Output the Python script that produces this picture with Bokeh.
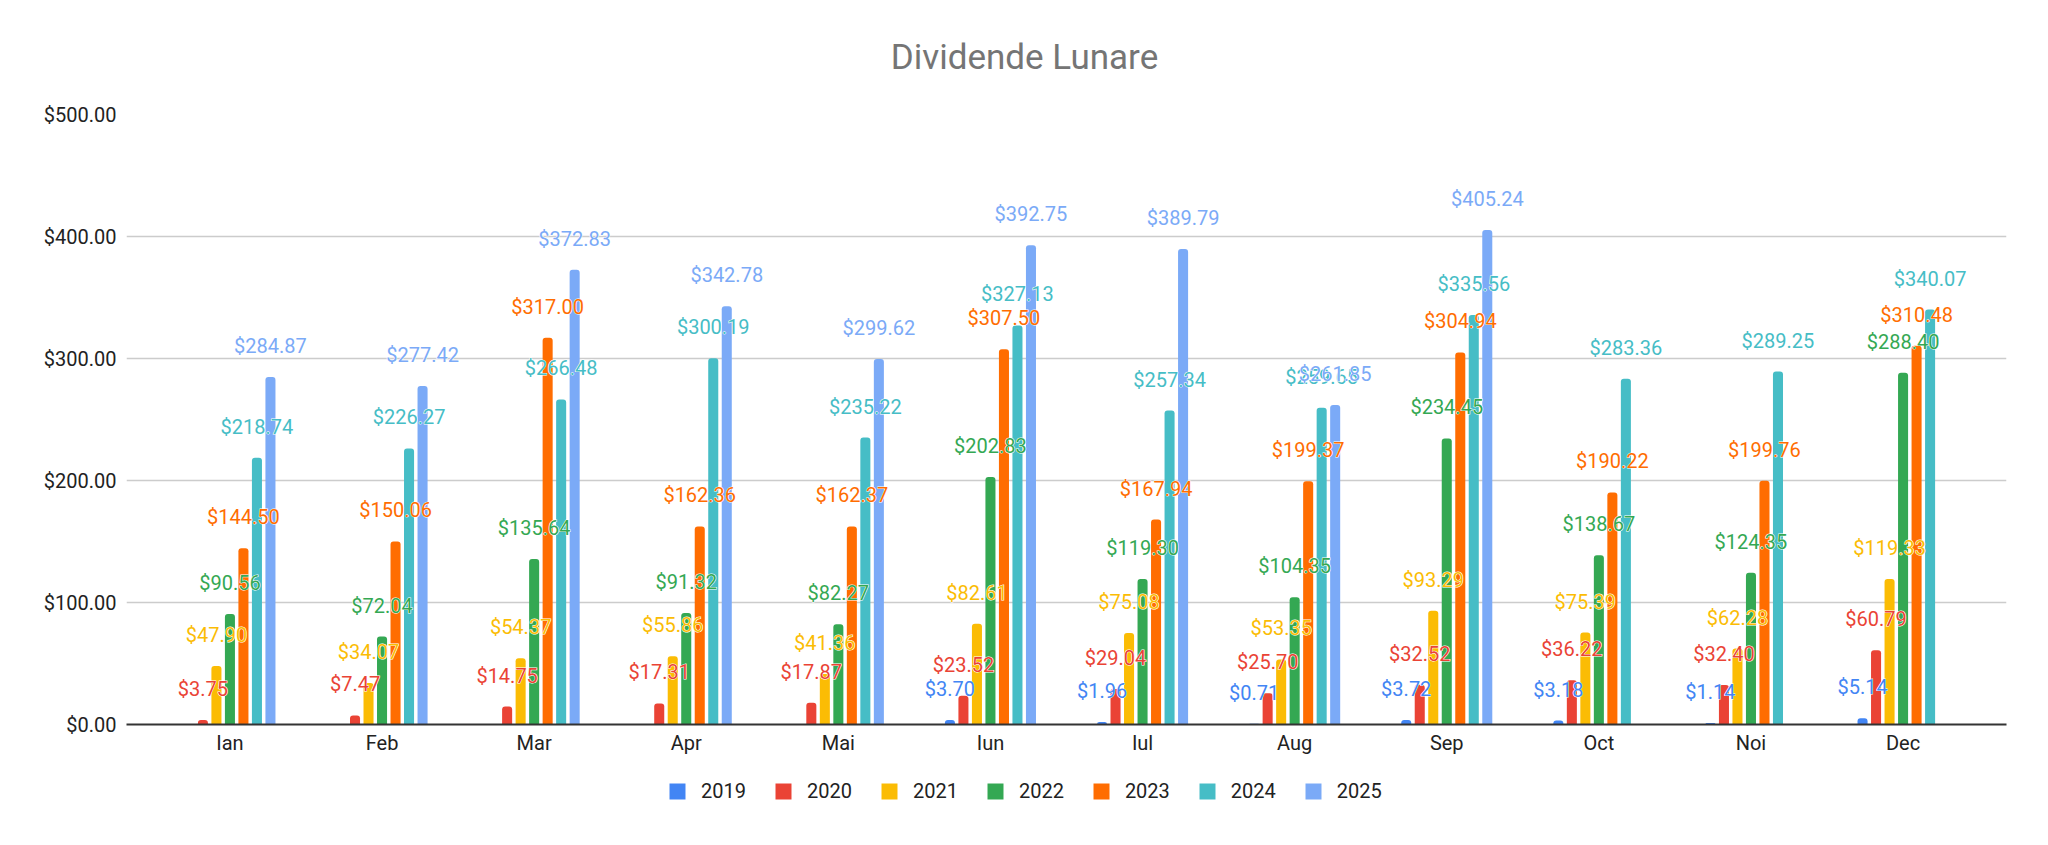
import numpy as np

from bokeh.core.properties import value
from bokeh.embed import file_html
from bokeh.layouts import column
from bokeh.models import (ColumnDataSource, FixedTicker, Label, Legend, LegendItem,
                          NumeralTickFormatter, Range1d)
from bokeh.plotting import figure
from bokeh.resources import INLINE
from bokeh.transform import dodge

nan = float("nan")

# monthly dividends, one list per year (nan = no payment recorded)
months = ["Ian", "Feb", "Mar", "Apr", "Mai", "Iun", "Iul", "Aug", "Sep", "Oct", "Noi", "Dec"]
years = ["2019", "2020", "2021", "2022", "2023", "2024", "2025"]
colors = ["#4285f4", "#ea4335", "#fbbc04", "#34a853", "#ff6d01", "#46bdc6", "#7baaf7"]

div_2019 = [nan, nan, nan, nan, nan, 3.70, 1.96, 0.71, 3.72, 3.18, 1.14, 5.14]
div_2020 = [3.75, 7.47, 14.75, 17.31, 17.87, 23.52, 29.04, 25.70, 32.52, 36.22, 32.40, 60.79]
div_2021 = [47.90, 34.07, 54.37, 55.86, 41.36, 82.61, 75.08, 53.35, 93.29, 75.39, 62.28, 119.33]
div_2022 = [90.56, 72.04, 135.64, 91.32, 82.27, 202.83, 119.30, 104.35, 234.45, 138.67, 124.35, 288.40]
div_2023 = [144.50, 150.06, 317.00, 162.36, 162.37, 307.50, 167.94, 199.37, 304.94, 190.22, 199.76, 310.48]
div_2024 = [218.74, 226.27, 266.48, 300.19, 235.22, 327.13, 257.34, 259.65, 335.56, 283.36, 289.25, 340.07]
div_2025 = [284.87, 277.42, 372.83, 342.78, 299.62, 392.75, 389.79, 261.85, 405.24, nan, nan, nan]

series = [div_2019, div_2020, div_2021, div_2022, div_2023, div_2024, div_2025]

FONT = "Roboto"


def money(v):
    return "" if np.isnan(v) else f"${v:,.2f}"


data = {"idx": np.arange(len(months))}
for yr, vals in zip(years, series):
    data["y" + yr] = np.array(vals, dtype=float)
    data["t" + yr] = [money(v) for v in vals]
src = ColumnDataSource(data)


def strip(height, **kw):
    # bare figure used for the title and legend rows
    f = figure(width=2048, height=height, x_axis_type=None, y_axis_type=None,
               output_backend="svg", toolbar_location=None, tools="", min_border=0, **kw)
    f.grid.visible = False
    f.outline_line_color = None
    return f


# title row (its frame lines up with the chart frame, so x is from x=126)
head = strip(94, x_range=(0, 1), y_range=(0, 1))
head.add_layout(Label(x=898, y=37, x_units="screen", y_units="screen",
                      text="Dividende Lunare", text_align="center", text_baseline="middle",
                      text_font=FONT, text_font_size="35px", text_color="#757575"))

p = figure(width=2048, height=682,
           x_range=Range1d(-0.68, 11.68), y_range=Range1d(0, 500),
           output_backend="svg", toolbar_location=None, tools="",
           min_border_left=126, min_border_right=42,
           min_border_top=20, min_border_bottom=52)
p.outline_line_color = None

bar_w = 0.066
step = 0.0888
bar_style = dict(line_color=None, border_radius=(3, 3, 0, 0))

for j, (yr, col) in enumerate(zip(years, colors)):
    p.vbar(x=dodge("idx", (j - 3) * step, range=p.x_range), top="y" + yr,
           width=bar_w, source=src, fill_color=col, **bar_style)

# data labels above the bars; a white copy underneath gives the halo
for j, (yr, col) in enumerate(zip(years, colors)):
    xs = dodge("idx", (j - 3) * step, range=p.x_range)
    common = dict(x=xs, y="y" + yr, text="t" + yr, source=src, y_offset=-31,
                  text_align="center", text_baseline="middle",
                  text_font=value(FONT), text_font_size="20px")
    p.text(text_color="white", text_outline_color="white", **common)
    p.text(text_color=col, **common)

# axes
p.yaxis.ticker = FixedTicker(ticks=[0, 100, 200, 300, 400, 500])
p.yaxis.formatter = NumeralTickFormatter(format="$0,0.00")
p.yaxis.axis_line_color = None
p.yaxis.major_label_standoff = 10

p.xaxis.ticker = FixedTicker(ticks=list(range(len(months))))
p.xaxis.major_label_overrides = {i: m for i, m in enumerate(months)}
p.xaxis.axis_line_color = "#333333"
p.xaxis.axis_line_width = 2
p.xaxis.major_label_standoff = 6

for ax in (p.xaxis, p.yaxis):
    ax.major_tick_line_color = None
    ax.minor_tick_line_color = None
    ax.major_tick_out = 0
    ax.major_tick_in = 0
    ax.major_label_text_font = FONT
    ax.major_label_text_font_size = "20px"
    ax.major_label_text_color = "#222222"

p.xgrid.grid_line_color = None
p.ygrid.grid_line_color = "#cccccc"
p.ygrid.grid_line_width = 1.5

# legend row; swatch renderers hold a single empty (nan) row so they draw nothing
leg = strip(69, x_range=(0, 1), y_range=(0, 1))
swatch_src = ColumnDataSource(dict(x=np.array([nan]), top=np.array([nan])))
swatches = [leg.vbar(x="x", top="top", width=bar_w, source=swatch_src,
                     fill_color=col, **bar_style)
            for col in colors]

legend = Legend(items=[LegendItem(label=yr, renderers=[r]) for yr, r in zip(years, swatches)],
                orientation="horizontal", location=(541, 42),
                glyph_width=20, glyph_height=20, label_height=20,
                label_standoff=14, spacing=27, padding=0, margin=0,
                border_line_color=None, background_fill_alpha=0,
                label_text_font=FONT, label_text_font_size="20px",
                label_text_color="#222222")
leg.add_layout(legend)

open("out.html", "w").write(file_html(column(head, p, leg), INLINE))
